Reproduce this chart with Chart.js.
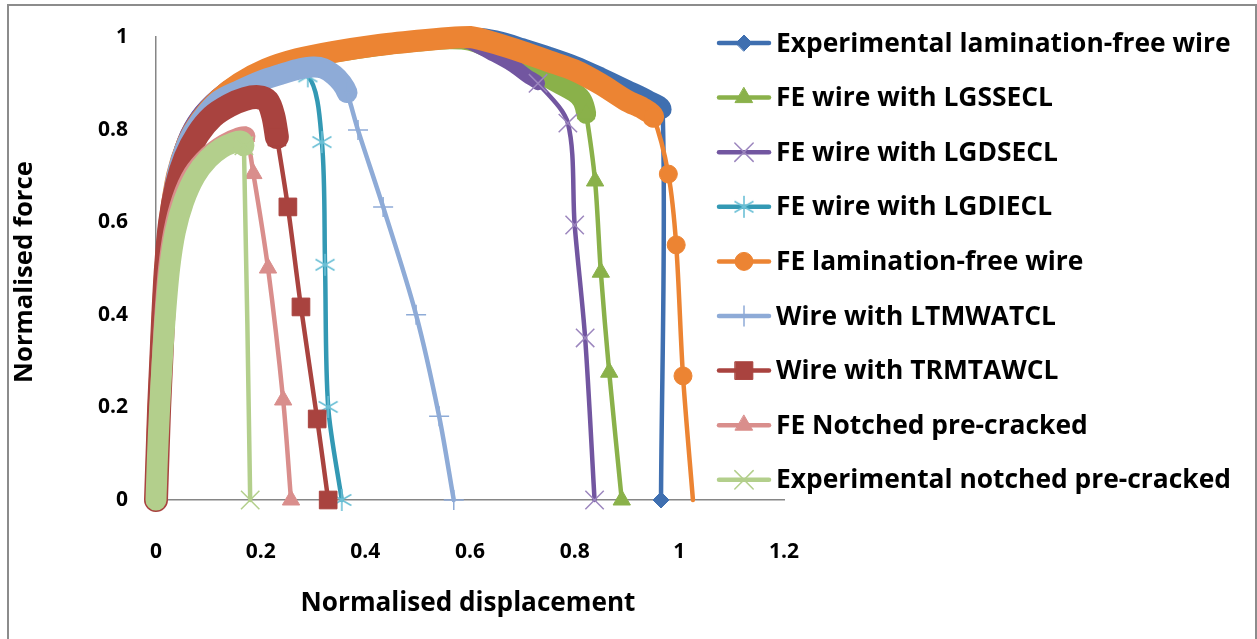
<!DOCTYPE html>
<html>
<head>
<meta charset="utf-8">
<title>Normalised force vs displacement</title>
<script src="https://cdn.jsdelivr.net/npm/chart.js@4.4.1/dist/chart.umd.min.js"></script>
<style>
  html, body { margin: 0; padding: 0; background: #fff; }
  #wrap { position: relative; width: 1257px; height: 639px; }
</style>
</head>
<body>
<div id="wrap"><canvas id="chart" width="1257" height="639"></canvas></div>
<script>
const seriesNames = [
  'Experimental lamination-free wire',
  'FE wire with LGSSECL',
  'FE wire with LGDSECL',
  'FE wire with LGDIECL',
  'FE lamination-free wire',
  'Wire with LTMWATCL',
  'Wire with TRMTAWCL',
  'FE Notched pre-cracked',
  'Experimental notched pre-cracked'
];

const xTickLabels = ['0', '0.2', '0.4', '0.6', '0.8', '1', '1.2'];
const yTickLabels = ['0', '0.2', '0.4', '0.6', '0.8', '1'];

// normalised displacement / force per curve
const expFreeX = [0, 0.002, 0.004, 0.008, 0.012, 0.017, 0.025, 0.038, 0.058, 0.084, 0.12, 0.16, 0.21, 0.27, 0.34, 0.42, 0.5, 0.58, 0.62, 0.66, 0.7, 0.75, 0.8, 0.85, 0.9, 0.94, 0.968, 0.965];
const expFreeY = [0, 0.1, 0.2, 0.3, 0.4, 0.5, 0.6, 0.7, 0.775, 0.828, 0.87, 0.902, 0.93, 0.953, 0.97, 0.984, 0.994, 1.0, 1.0, 0.992, 0.978, 0.96, 0.94, 0.915, 0.888, 0.866, 0.843, 0];

const lgsseclX = [0, 0.003, 0.006, 0.01, 0.014, 0.019, 0.027, 0.041, 0.06, 0.086, 0.12, 0.16, 0.21, 0.27, 0.34, 0.42, 0.5, 0.56, 0.6, 0.64, 0.68, 0.72, 0.76, 0.8, 0.815, 0.822, 0.839, 0.85, 0.866, 0.89];
const lgsseclY = [0, 0.1, 0.2, 0.3, 0.4, 0.5, 0.6, 0.7, 0.77, 0.82, 0.864, 0.898, 0.927, 0.95, 0.966, 0.98, 0.99, 0.995, 0.992, 0.975, 0.955, 0.93, 0.905, 0.88, 0.862, 0.834, 0.689, 0.492, 0.276, 0];

const lgdseclX = [0, 0.002, 0.004, 0.007, 0.011, 0.016, 0.023, 0.035, 0.054, 0.08, 0.115, 0.155, 0.205, 0.265, 0.335, 0.415, 0.495, 0.56, 0.6, 0.64, 0.68, 0.71, 0.73, 0.787, 0.8, 0.82, 0.838];
const lgdseclY = [0, 0.1, 0.2, 0.3, 0.4, 0.5, 0.6, 0.7, 0.777, 0.83, 0.872, 0.905, 0.933, 0.956, 0.973, 0.987, 0.996, 0.998, 0.988, 0.965, 0.94, 0.915, 0.9, 0.814, 0.594, 0.35, 0];

const lgdieclX = [0, 0.002, 0.005, 0.009, 0.013, 0.018, 0.026, 0.04, 0.06, 0.086, 0.12, 0.16, 0.2, 0.29, 0.317, 0.323, 0.329, 0.355];
const lgdieclY = [0, 0.1, 0.2, 0.3, 0.4, 0.5, 0.6, 0.7, 0.77, 0.82, 0.858, 0.884, 0.9, 0.915, 0.773, 0.508, 0.201, 0];

const feFreeX = [0, 0.002, 0.005, 0.009, 0.013, 0.018, 0.026, 0.04, 0.06, 0.085, 0.12, 0.16, 0.21, 0.27, 0.34, 0.42, 0.5, 0.56, 0.6, 0.65, 0.7, 0.75, 0.8, 0.85, 0.9, 0.93, 0.95, 0.979, 0.994, 1.007, 1.026];
const feFreeY = [0, 0.1, 0.2, 0.3, 0.4, 0.5, 0.6, 0.7, 0.77, 0.82, 0.865, 0.9, 0.93, 0.952, 0.968, 0.982, 0.992, 0.998, 1.0, 0.986, 0.968, 0.948, 0.928, 0.898, 0.862, 0.846, 0.828, 0.704, 0.551, 0.268, 0];

const ltmwatclX = [0, 0.002, 0.005, 0.009, 0.013, 0.018, 0.026, 0.04, 0.06, 0.086, 0.12, 0.16, 0.2, 0.24, 0.27, 0.3, 0.32, 0.34, 0.355, 0.365, 0.386, 0.434, 0.497, 0.541, 0.569];
const ltmwatclY = [0, 0.1, 0.2, 0.3, 0.4, 0.5, 0.6, 0.7, 0.77, 0.82, 0.862, 0.885, 0.905, 0.92, 0.93, 0.935, 0.932, 0.918, 0.9, 0.88, 0.799, 0.633, 0.4, 0.181, 0];

const trmtawclX = [0, 0.003, 0.006, 0.01, 0.014, 0.019, 0.027, 0.04, 0.057, 0.08, 0.108, 0.14, 0.17, 0.195, 0.213, 0.224, 0.231, 0.252, 0.277, 0.308, 0.329];
const trmtawclY = [0, 0.1, 0.2, 0.3, 0.4, 0.5, 0.6, 0.68, 0.74, 0.79, 0.828, 0.852, 0.866, 0.87, 0.862, 0.83, 0.784, 0.633, 0.417, 0.175, 0];

const feNotchX = [0, 0.003, 0.006, 0.01, 0.015, 0.022, 0.032, 0.048, 0.07, 0.1, 0.13, 0.155, 0.172, 0.186, 0.214, 0.243, 0.258];
const feNotchY = [0, 0.1, 0.2, 0.3, 0.4, 0.5, 0.58, 0.65, 0.705, 0.745, 0.77, 0.783, 0.785, 0.705, 0.501, 0.216, 0];

const expNotchX = [0, 0.003, 0.007, 0.012, 0.018, 0.026, 0.037, 0.053, 0.075, 0.1, 0.125, 0.148, 0.163, 0.168, 0.18];
const expNotchY = [0, 0.1, 0.2, 0.3, 0.4, 0.5, 0.58, 0.645, 0.7, 0.737, 0.76, 0.772, 0.775, 0.765, 0];

const seriesX = [expFreeX, lgsseclX, lgdseclX, lgdieclX, feFreeX, ltmwatclX, trmtawclX, feNotchX, expNotchX];
const seriesY = [expFreeY, lgsseclY, lgdseclY, lgdieclY, feFreeY, ltmwatclY, trmtawclY, feNotchY, expNotchY];

// six-armed asterisk marker (an x with an upright stroke)
function asterisk(color, size) {
  const c = document.createElement('canvas');
  c.width = size; c.height = size;
  const g = c.getContext('2d');
  const m = size / 2, a = size * 0.42;
  g.strokeStyle = color;
  g.lineWidth = 1.6;
  g.beginPath();
  g.moveTo(m - a * 0.87, m - a * 0.5); g.lineTo(m + a * 0.87, m + a * 0.5);
  g.moveTo(m - a * 0.87, m + a * 0.5); g.lineTo(m + a * 0.87, m - a * 0.5);
  g.moveTo(m, m - a); g.lineTo(m, m + a);
  g.stroke();
  return c;
}

// line colour, marker, and the index where the closely logged run of points stops
const looks = [
  { line: '#3F6FB0', mark: '#3F6FB0', shape: 'rectRot',  r: 8,    bw: 1,   band: 18, bandEnd: 26 },
  { line: '#8AB14A', mark: '#8AB14A', shape: 'triangle', r: 10,   bw: 1,   band: 20, bandEnd: 25 },
  { line: '#7256A0', mark: '#9C86BE', shape: 'crossRot', r: 13,   bw: 1.5, band: 14, bandEnd: 22 },
  { line: '#3399B4', mark: '#6CC0D6', shape: asterisk('#6CC0D6', 26), r: 11, bw: 1.5, band: 14, bandEnd: 12 },
  { line: '#EC8433', mark: '#EC8433', shape: 'circle',   r: 9,    bw: 1,   band: 22, bandEnd: 26, noEndMark: true },
  { line: '#8EABD7', mark: '#8EABD7', shape: 'cross',    r: 10,   bw: 1.5, band: 21, bandEnd: 19 },
  { line: '#A9433F', mark: '#A9433F', shape: 'rect',     r: 12.5, bw: 1,   band: 24, bandEnd: 16 },
  { line: '#D98E8C', mark: '#D98E8C', shape: 'triangle', r: 10,   bw: 1,   band: 19, bandEnd: 12 },
  { line: '#B3CF8C', mark: '#B3CF8C', shape: 'crossRot', r: 13,   bw: 1.5, band: 21, bandEnd: 13 }
];

const datasets = seriesNames.map((name, s) => {
  const L = looks[s];
  const last = seriesX[s].length - 1;
  return {
    label: name,
    data: seriesX[s].map((x, i) => ({ x: x, y: seriesY[s][i] })),
    borderColor: L.line,
    backgroundColor: L.mark,
    borderWidth: 4.5,
    borderJoinStyle: 'round',
    borderCapStyle: 'round',
    tension: 0.3,
    pointStyle: L.shape,
    pointBackgroundColor: L.mark,
    pointBorderColor: L.mark,
    pointBorderWidth: L.bw,
    pointRadius: c => (c.dataIndex < L.bandEnd || (L.noEndMark && c.dataIndex === last)) ? 0 : L.r,
    segment: {
      borderWidth: c => c.p1DataIndex <= L.bandEnd ? L.band : 4.5
    },
    clip: false,
    order: seriesNames.length - s
  };
});

const FONT = '"Open Sans", Lato, sans-serif';

// font size that makes `text` span `width` pixels
function fitSize(ctx, text, width) {
  ctx.font = 'bold 20px ' + FONT;
  return 20 * width / ctx.measureText(text).width;
}

const frame = {
  id: 'frame',
  beforeDraw(chart) {
    const ctx = chart.ctx;
    ctx.save();
    ctx.strokeStyle = '#8c8c8c';
    ctx.lineWidth = 2;
    ctx.strokeRect(8, 5, 1248, 700);
    ctx.restore();
  }
};

const sideLegend = {
  id: 'sideLegend',
  afterDraw(chart) {
    const ctx = chart.ctx;
    ctx.save();
    const size = fitSize(ctx, seriesNames[0], 455);
    chart.data.datasets.forEach((ds, i) => {
      const L = looks[i];
      const y = 43 + i * 54.6;
      ctx.strokeStyle = L.line;
      ctx.lineWidth = 4.5;
      ctx.lineCap = 'round';
      ctx.beginPath();
      ctx.moveTo(719, y);
      ctx.lineTo(769, y);
      ctx.stroke();
      ctx.fillStyle = L.mark;
      ctx.strokeStyle = L.mark;
      ctx.lineWidth = L.bw;
      Chart.helpers.drawPoint(ctx, { pointStyle: L.shape, radius: L.r, rotation: 0, borderWidth: L.bw }, 744, y);
      ctx.fillStyle = '#000';
      ctx.font = 'bold ' + size + 'px ' + FONT;
      ctx.textAlign = 'left';
      ctx.textBaseline = 'middle';
      ctx.fillText(ds.label, 776, y + 1);
    });
    ctx.restore();
  }
};

const axisTitles = {
  id: 'axisTitles',
  afterDraw(chart) {
    const ctx = chart.ctx;
    ctx.save();
    ctx.fillStyle = '#000';
    ctx.textAlign = 'center';
    ctx.textBaseline = 'middle';
    const xt = 'Normalised displacement';
    ctx.font = 'bold ' + fitSize(ctx, xt, 335) + 'px ' + FONT;
    ctx.fillText(xt, 468, 604);
    const yt = 'Normalised force';
    ctx.font = 'bold ' + fitSize(ctx, yt, 222) + 'px ' + FONT;
    ctx.translate(25, 272);
    ctx.rotate(-Math.PI / 2);
    ctx.fillText(yt, 0, 0);
    ctx.restore();
  }
};

new Chart(document.getElementById('chart'), {
  type: 'line',
  data: { datasets: datasets },
  plugins: [frame, sideLegend, axisTitles],
  options: {
    responsive: false,
    animation: false,
    events: [],
    layout: { padding: { top: 37, left: 0, right: 473, bottom: 0 } },
    plugins: { legend: { display: false }, tooltip: { enabled: false } },
    scales: {
      x: {
        type: 'linear',
        min: 0, max: 1.2,
        grid: { display: false },
        border: { display: true, color: '#868686', width: 1.5 },
        ticks: {
          stepSize: 0.2,
          padding: 31,
          color: '#000',
          font: { family: FONT, size: 21, weight: 'bold' },
          maxRotation: 0,
          callback: (v, i) => xTickLabels[i]
        },
        afterFit(scale) {
          scale.height = 139;
          scale.paddingLeft = 0; scale.paddingRight = 0;
          scale.paddingTop = 0; scale.paddingBottom = 0;
        }
      },
      y: {
        type: 'linear',
        min: 0, max: 1,
        grid: { display: false },
        border: { display: true, color: '#868686', width: 1.5 },
        ticks: {
          stepSize: 0.2,
          padding: 20,
          color: '#000',
          font: { family: FONT, size: 21, weight: 'bold' },
          callback: (v, i) => yTickLabels[i]
        },
        afterFit(scale) {
          scale.width = 156;
          scale.paddingLeft = 0; scale.paddingRight = 0;
          scale.paddingTop = 0; scale.paddingBottom = 0;
        }
      }
    }
  }
});
</script>
</body>
</html>
